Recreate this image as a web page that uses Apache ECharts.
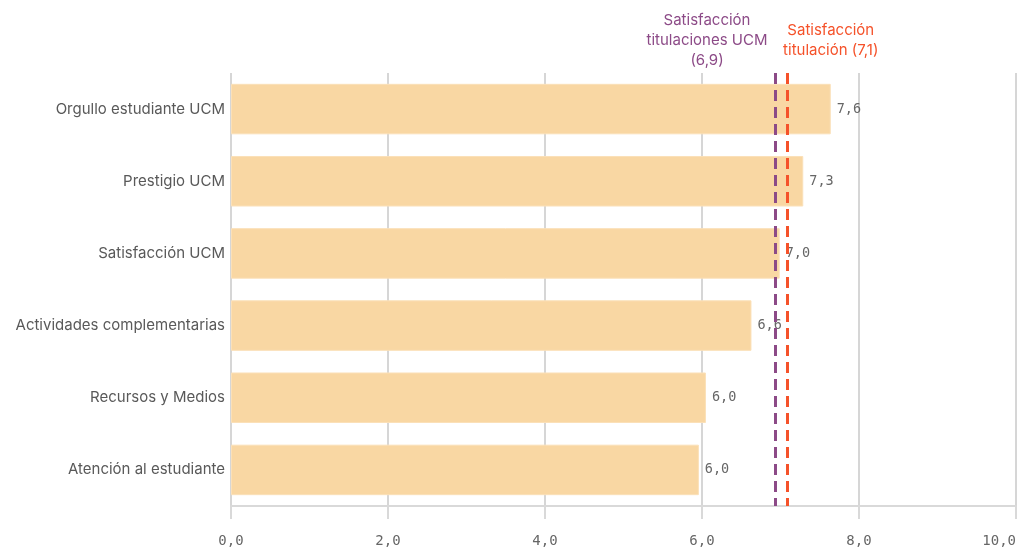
<!DOCTYPE html>
<html>
<head>
<meta charset="utf-8">
<script src="https://cdn.jsdelivr.net/npm/echarts@6/dist/echarts.min.js"></script>
<style>html,body{margin:0;padding:0;background:#fff}#c{width:1019px;height:550px}</style>
</head>
<body>
<div id="c"></div>
<script>
const categories = ["Orgullo estudiante UCM","Prestigio UCM","Satisfacción UCM","Actividades complementarias","Recursos y Medios","Atención al estudiante"];
const values = [7.64, 7.29, 6.99, 6.63, 6.05, 5.96];
const valueLabels = ["7,6","7,3","7,0","6,6","6,0","6,0"];
const xTicks = [0, 2, 4, 6, 8, 10];
const refValues = [6.93, 7.08];
const refLabels = ["Satisfacción\ntitulaciones UCM\n(6,9)", "Satisfacción\ntitulación (7,1)"];
const refColors = ["#8c4a87", "#f5522a"];

const chart = echarts.init(document.getElementById('c'), null, {renderer:'canvas'});
const mono = "'DejaVu Sans Mono', monospace";
const sans = "Inter, 'Noto Sans', sans-serif";

chart.setOption({
  animation: false,
  grid: {left: 231, right: 2, top: 73, bottom: 44},
  xAxis: {
    type: 'value', min: xTicks[0], max: xTicks[xTicks.length - 1], interval: 2,
    axisLine: {show: true, lineStyle: {color: '#d9d9d9', width: 2}},
    axisTick: {show: true, length: 13, lineStyle: {color: '#d9d9d9', width: 2}},
    splitLine: {show: true, lineStyle: {color: '#d6d6d6', width: 2}},
    axisLabel: {
      margin: 28, color: '#666', fontFamily: mono, fontSize: 14, alignMaxLabel: 'right',
      formatter: v => v.toFixed(1).replace('.', ',')
    }
  },
  yAxis: {
    type: 'category', data: categories, inverse: true,
    axisLine: {show: false}, axisTick: {show: false},
    axisLabel: {color: '#595959', fontFamily: sans, fontSize: 15, margin: 6}
  },
  series: [{
    type: 'bar', data: values, barWidth: '70%',
    itemStyle: {color: '#f9d7a3', borderColor: '#fbe0b8', borderWidth: 1},
    label: {
      show: true, position: 'right', distance: 6, color: '#666', fontFamily: mono, fontSize: 13.5,
      formatter: p => valueLabels[p.dataIndex]
    },
    markLine: {
      silent: true, symbol: 'none',
      label: {show: false},
      data: refValues.map((v, i) => ({xAxis: v, lineStyle: {color: refColors[i], width: 3, type: [11, 6]}}))
    }
  }]
});

const offsets = [-68, 44];
const bottoms = [70, 60];
const graphics = refValues.map((v, i) => {
  const px = chart.convertToPixel({xAxisIndex: 0}, v);
  return {
    type: 'text', x: px + offsets[i], y: bottoms[i],
    style: {text: refLabels[i], fill: refColors[i], font: "15px " + sans, textAlign: 'center', textVerticalAlign: 'bottom', lineHeight: 20}
  };
});
chart.setOption({graphic: graphics});
</script>
</body>
</html>
